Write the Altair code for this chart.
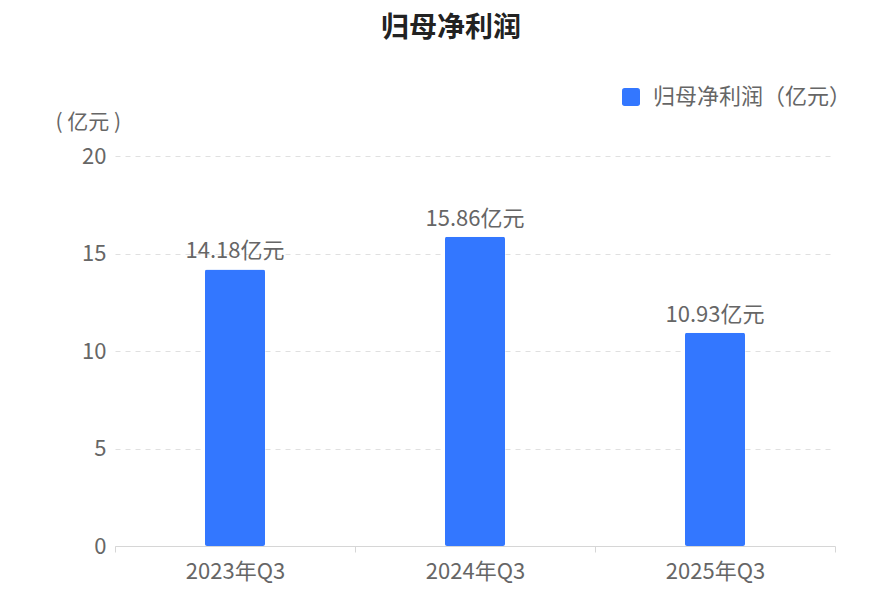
import altair as alt
import pandas as pd

periods = ["2023年Q3", "2024年Q3", "2025年Q3"]
profit = [14.18, 15.86, 10.93]
series_name = "归母净利润（亿元）"

FONT = "Noto Sans CJK SC"
BLUE = "#3377FF"
GRAY = "#666666"

frame = pd.DataFrame({"period": periods, "profit": profit, "series": series_name})

rounded_square = (
    "M -0.7,-1 H 0.7 Q 1,-1 1,-0.7 V 0.7 Q 1,1 0.7,1 H -0.7 "
    "Q -1,1 -1,0.7 V -0.7 Q -1,-1 -0.7,-1 Z"
)

base = alt.Chart(frame).encode(
    x=alt.X(
        "period:N",
        sort=periods,
        title=None,
        scale=alt.Scale(paddingInner=0, paddingOuter=0),
        axis=alt.Axis(
            labelAngle=0,
            labelFont=FONT,
            labelFontSize=22,
            labelColor=GRAY,
            labelPadding=9,
            domainColor="#d6d6d6",
            tickColor="#d6d6d6",
            tickSize=6,
            tickBand="extent",
            grid=False,
        ),
    ),
)

bars = base.mark_bar(size=60, cornerRadius=2).encode(
    y=alt.Y(
        "profit:Q",
        scale=alt.Scale(domain=[0, 20]),
        title="( 亿元 )",
        axis=alt.Axis(
            values=[0, 5, 10, 15, 20],
            labelFont=FONT,
            labelFontSize=22,
            labelColor=GRAY,
            labelPadding=9,
            domain=False,
            ticks=False,
            gridColor="#e0e0e0",
            gridDash=[5, 5],
            titleAngle=0,
            titleAlign="left",
            titleBaseline="middle",
            titleX=-60,
            titleY=-34,
            titleFont=FONT,
            titleFontSize=21,
            titleFontWeight="normal",
            titleColor=GRAY,
        ),
    ),
    color=alt.Color(
        "series:N",
        scale=alt.Scale(range=[BLUE]),
        legend=alt.Legend(
            title=None,
            orient="none",
            legendX=505,
            legendY=-70,
            symbolType=rounded_square,
            symbolSize=324,
            symbolStrokeWidth=0,
            labelFont=FONT,
            labelFontSize=22,
            labelColor=GRAY,
            labelOffset=11,
            labelLimit=0,
        ),
    ),
)

labels = base.transform_calculate(
    label="format(datum.profit, '.2f') + '亿元'"
).mark_text(dy=-18, font=FONT, fontSize=22, color=GRAY).encode(
    y=alt.Y("profit:Q"),
    text="label:N",
)

chart = (
    alt.layer(bars, labels)
    .properties(
        width=720,
        height=390,
        padding={"left": 107, "top": 148, "right": 45, "bottom": 44},
        autosize=alt.AutoSizeParams(type="none"),
        title=alt.TitleParams(
            "归母净利润",
            font=FONT,
            fontSize=28,
            fontWeight="bold",
            color="#222222",
            anchor="middle",
            frame="group",
            dx=-24,
            offset=43,
        ),
    )
    .configure_view(stroke=None)
)

chart.save("out.html", embed_options={"renderer": "svg", "actions": False})
